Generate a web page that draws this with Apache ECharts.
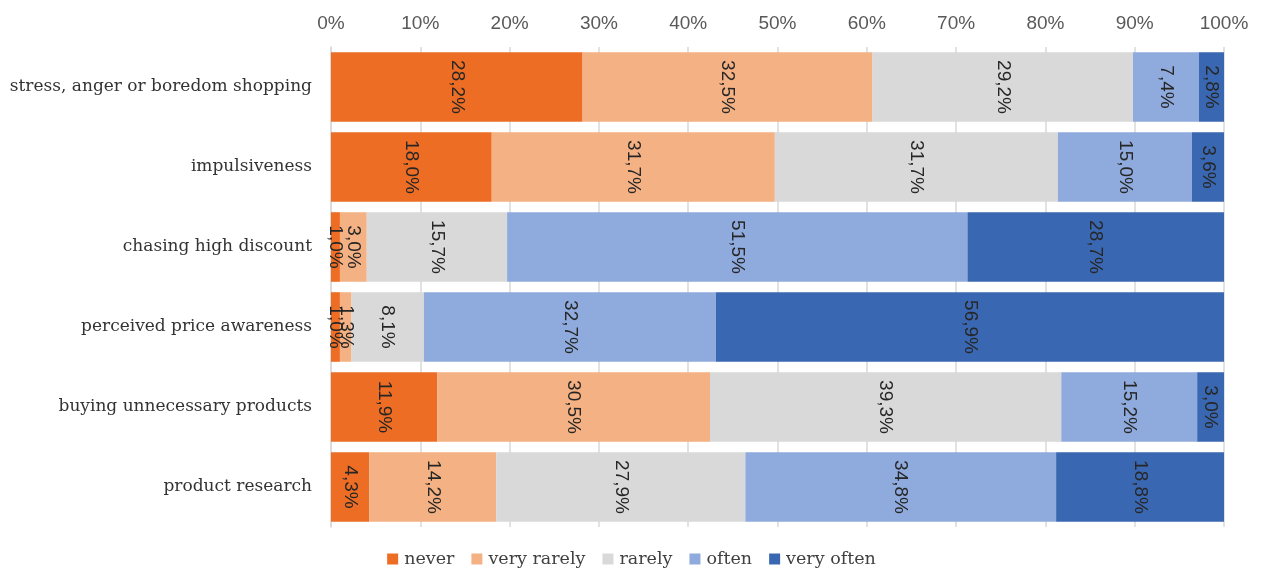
<!DOCTYPE html>
<html>
<head>
<meta charset="utf-8">
<script src="https://cdn.jsdelivr.net/npm/echarts@6/dist/echarts.min.js"></script>
<style>html,body{margin:0;padding:0;background:#fff}#c{width:1263px;height:574px}</style>
</head>
<body>
<div id="c"></div>
<script>
const categories = ["stress, anger or boredom shopping","impulsiveness","chasing high discount","perceived price awareness","buying unnecessary products","product research"];
const seriesNames = ["never","very rarely","rarely","often","very often"];
const never = [28.2, 18.0, 1.0, 1.0, 11.9, 4.3];
const veryRarely = [32.5, 31.7, 3.0, 1.3, 30.5, 14.2];
const rarely = [29.2, 31.7, 15.7, 8.1, 39.3, 27.9];
const often = [7.4, 15.0, 51.5, 32.7, 15.2, 34.8];
const veryOften = [2.8, 3.6, 28.7, 56.9, 3.0, 18.8];
const xTicks = [0,10,20,30,40,50,60,70,80,90,100];

const allSeries = [never, veryRarely, rarely, often, veryOften];
const colors = ["#ED6D24","#F4B183","#D9D9D9","#8FAADC","#3A67B1"];
const rowSums = categories.map((c,i)=>allSeries.reduce((s,a)=>s+a[i],0));

const chart = echarts.init(document.getElementById('c'));
chart.setOption({
  animation:false,
  color: colors,
  grid:{left:331,right:39,top:47,bottom:47,containLabel:false},
  legend:{
    bottom:1,left:'center',
    itemWidth:11,itemHeight:11,itemGap:17,
    icon:'rect',
    textStyle:{fontFamily:'DejaVu Serif',fontSize:17.5,color:'#404040',padding:[0,0,0,1]},
    data:seriesNames
  },
  xAxis:{
    type:'value',position:'top',min:0,max:100,interval:10,
    axisLine:{show:false},axisTick:{show:false},
    splitLine:{lineStyle:{color:'#D9D9D9',width:1.5}},
    axisLabel:{formatter:v=>v+'%',fontFamily:'Liberation Sans',fontSize:19,color:'#595959',margin:14}
  },
  yAxis:{
    type:'category',inverse:true,data:categories,
    axisLine:{show:true,lineStyle:{color:'#D9D9D9',width:1.5}},
    axisTick:{show:false},
    axisLabel:{fontFamily:'DejaVu Serif',fontSize:17,color:'#333333',margin:19,padding:[4,0,0,0]}
  },
  series: allSeries.map((arr,si)=>({
    name:seriesNames[si],type:'bar',stack:'total',barCategoryGap:'13%',
    data:arr.map((v,i)=>({value:v/rowSums[i]*100,raw:v})),
    label:{
      show:true,position:'inside',rotate:-90,
      fontFamily:'Liberation Sans',fontSize:19,color:'#262626',
      formatter:p=>p.data.raw.toFixed(1).replace('.',',')+'%'
    }
  }))
});
</script>
</body>
</html>
